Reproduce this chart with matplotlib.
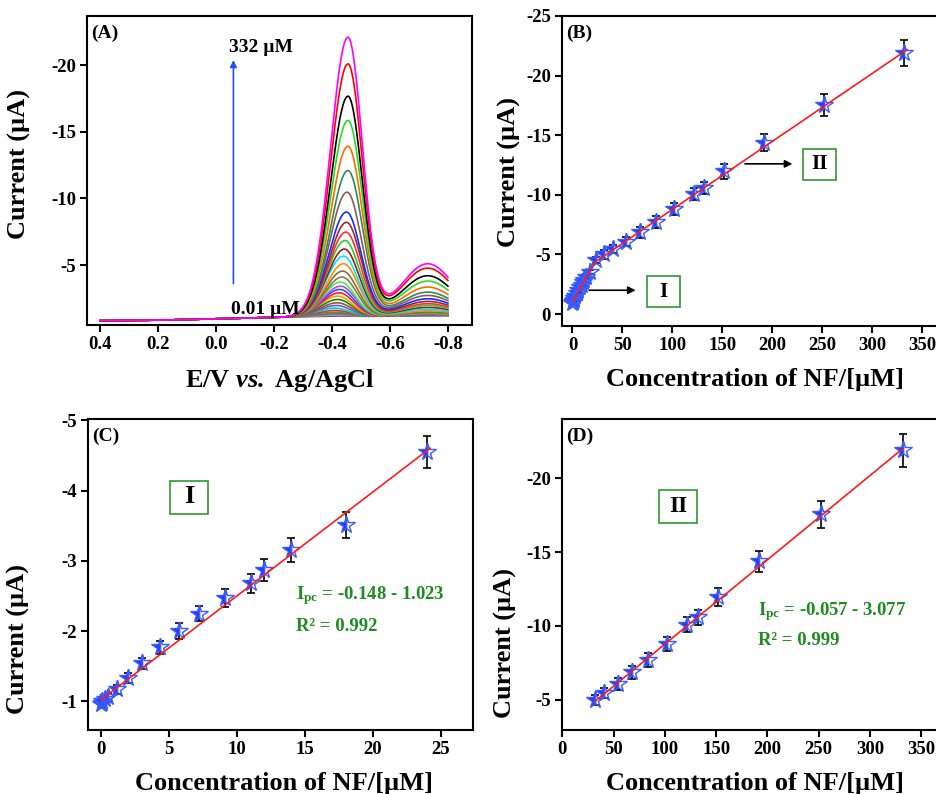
import numpy as np
import matplotlib
matplotlib.use('Agg')
import matplotlib.pyplot as plt
from matplotlib.patches import Rectangle

plt.rcParams['font.family'] = ['Liberation Serif', 'DejaVu Serif']
plt.rcParams['font.weight'] = 'bold'
plt.rcParams['axes.labelweight'] = 'bold'
plt.rcParams['axes.unicode_minus'] = False
plt.rcParams['mathtext.fontset'] = 'custom'
plt.rcParams['mathtext.rm'] = 'Liberation Serif:bold'
plt.rcParams['mathtext.bf'] = 'Liberation Serif:bold'
plt.rcParams['mathtext.it'] = 'Liberation Serif:italic:bold'
plt.rcParams['mathtext.bfit'] = 'Liberation Serif:italic:bold'

# ---- panel A: DPV curves (top curve first)
peak1_I = [-22.07, -20.07, -17.65, -15.83, -13.9, -12.08, -10.46, -8.97, -8.2, -7.47,
           -6.84, -6.2, -5.67, -5.1, -4.55, -4.1, -3.72, -3.42, -3.17, -2.92,
           -2.67, -2.42, -2.17, -1.97, -1.77, -1.6, -1.47, -1.38, -1.3, -1.24, -1.18]
peak1_E = [-0.455, -0.455, -0.455, -0.455, -0.455, -0.455, -0.452, -0.45, -0.45, -0.448,
           -0.445, -0.443, -0.44, -0.44, -0.437, -0.435, -0.43, -0.43, -0.427, -0.425,
           -0.42, -0.42, -0.418, -0.415, -0.41, -0.41, -0.41, -0.41, -0.41, -0.41, -0.41]
peak2_I = [-5.1, -4.77, -4.2, -3.8, -3.35, -2.97, -2.72, -2.47, -2.27, -2.1,
           -1.97, -1.82, -1.67, -1.57, -1.47, -1.42, -1.38, -1.35, -1.33, -1.31,
           -1.3, -1.29, -1.28, -1.27, -1.26, -1.25, -1.24, -1.23, -1.22, -1.21, -1.2]
base_E = [0.4, 0.2, 0.0, -0.2, -0.3, -0.8]
base_I = [-0.82, -0.86, -0.97, -1.07, -1.12, -1.18]
curve_colors = ['#ff00ff', '#ff0000', '#000000', '#22dd22', '#ff6a00', '#2e8b57', '#8b5a5a',
                '#1030ff', '#a0262b', '#ff3030', '#2ecc2e', '#8b2323', '#00e5ff', '#ff8c00',
                '#8b6b3a', '#808040', '#33ff33', '#c040ff', '#3050ff', '#ff2020', '#ff9900',
                '#118811', '#a0522d', '#6a5acd', '#00cccc', '#cc3366', '#669900', '#996633',
                '#3399ff', '#ff66cc', '#555555']

# ---- calibration data
conc1 = [0.01, 0.05, 0.1, 0.3, 0.5, 1.2, 2.0, 3.0, 4.3, 5.7, 7.2, 9.1, 11.0, 12.0, 14.0, 18.0, 24.0]
cur1 = [-0.96, -0.98, -1.0, -1.03, -1.06, -1.17, -1.33, -1.54, -1.77, -2.0, -2.25, -2.47,
        -2.68, -2.87, -3.15, -3.51, -4.55]
err1 = [0.05, 0.05, 0.05, 0.05, 0.06, 0.07, 0.07, 0.08, 0.09, 0.11, 0.11, 0.13, 0.14, 0.15,
        0.17, 0.18, 0.23]
conc2 = [32, 41, 54, 68, 84, 102, 122, 132, 152, 192, 252, 332]
cur2 = [-5.0, -5.45, -6.08, -6.87, -7.7, -8.78, -10.1, -10.6, -11.96, -14.37, -17.55, -21.87]
err2 = [0.35, 0.35, 0.4, 0.45, 0.5, 0.5, 0.5, 0.5, 0.6, 0.7, 0.9, 1.1]
fit1 = (-0.148, -1.023)
fit2 = (-0.057, -3.077)

W, H = 936, 794
fig = plt.figure(figsize=(W / 100, H / 100), dpi=100)


def box(l, t, r, b):
    return [l / W, 1 - b / H, (r - l) / W, (b - t) / H]


def green_box(cx, cy, w, h, txt, fs):
    # framed roman numeral, placed in figure pixels
    fig.add_artist(Rectangle(((cx - w / 2) / W, 1 - (cy + h / 2) / H), w / W, h / H,
                             transform=fig.transFigure, fill=False, ec='#2f9a2f', lw=1.2))
    fig.text(cx / W, 1 - cy / H, txt, fontsize=fs, ha='center', va='center')


axA = fig.add_axes(box(87, 16, 472, 325))
axB = fig.add_axes(box(562, 16, 950, 326))
axC = fig.add_axes(box(88, 419, 473, 729.5))
axD = fig.add_axes(box(562.3, 419, 950, 729.5))

for ax in (axA, axB, axC, axD):
    for s in ax.spines.values():
        s.set_linewidth(1.5)
    ax.tick_params(direction='out', length=5, width=1.5, labelsize=13.5, pad=3)

green = '#1e8c1e'

# ---- A
E = np.linspace(0.4, -0.8, 700)
base = np.interp(E[::-1], base_E[::-1], base_I[::-1])[::-1]
b1 = np.interp(-0.45, base_E[::-1], base_I[::-1])
b2 = np.interp(-0.73, base_E[::-1], base_I[::-1])
for i in range(len(peak1_I) - 1, -1, -1):
    sig1 = np.where(E > peak1_E[i], 0.06, 0.05)
    g1 = np.exp(-0.5 * ((E - peak1_E[i]) / sig1) ** 2)
    g2 = np.exp(-0.5 * ((E + 0.73) / 0.09) ** 2)
    I = base + (peak1_I[i] - b1) * g1 + (peak2_I[i] - b2) * g2
    axA.plot(E, I, color=curve_colors[i], lw=1.2)
axA.set_xlim(0.445, -0.883)
axA.set_ylim(-0.5, -23.7)
axA.set_xticks([0.4, 0.2, 0.0, -0.2, -0.4, -0.6, -0.8])
axA.set_xticklabels(['0.4', '0.2', '0.0', '-0.2', '-0.4', '-0.6', '-0.8'])
axA.set_yticks([-5, -10, -15, -20])
axA.annotate('', xy=(-0.06, -20.6), xytext=(-0.06, -3.4),
             arrowprops=dict(arrowstyle='-|>', color='#1f4fff', lw=1.2, mutation_scale=10))
axA.text(-0.044, -21.35, '332 µM', fontsize=14, va='center', ha='left')
axA.text(-0.052, -1.7, '0.01 µM', fontsize=14, va='center', ha='left')
axA.set_xlabel(r'E/V $\mathbfit{vs.}$ Ag/AgCl', fontsize=19)
axA.xaxis.set_label_coords(0.5, -0.135)


def calib(ax, xs, ys, es):
    ax.errorbar(xs, ys, yerr=es, fmt='none', ecolor='k', elinewidth=1.2,
                capsize=3, capthick=1.2, zorder=2)
    ax.plot(xs, ys, ls='none', marker='*', ms=13, mfc='#1f3cff', mec='#3a5cff',
            fillstyle='left', markerfacecoloralt='none', mew=1.0, zorder=3)


# ---- B
calib(axB, conc1 + conc2, cur1 + cur2, err1 + err2)
xk = (fit2[1] - fit1[1]) / (fit1[0] - fit2[0])
xb1 = np.array([0, xk])
xb2 = np.array([xk, 335])
axB.plot(xb1, fit1[0] * xb1 + fit1[1], color='#ff1a1a', lw=1.2, zorder=4)
axB.plot(xb2, fit2[0] * xb2 + fit2[1], color='#ff1a1a', lw=1.2, zorder=4)
axB.set_xlim(-10.5, 378)
axB.set_ylim(1.0, -25)
axB.set_xticks(range(0, 351, 50))
axB.set_yticks([0, -5, -10, -15, -20, -25])
axB.annotate('', xy=(66, -2.0), xytext=(14, -2.0),
             arrowprops=dict(arrowstyle='-|>', color='k', lw=1.2, mutation_scale=11))
axB.annotate('', xy=(223, -12.6), xytext=(170, -12.6),
             arrowprops=dict(arrowstyle='-|>', color='k', lw=1.2, mutation_scale=11))
green_box(663.3, 291.7, 33, 31, 'I', 15)
green_box(819.3, 164, 33, 31, 'II', 15)

# ---- C
calib(axC, conc1, cur1, err1)
xc = np.array([0, 24.2])
axC.plot(xc, fit1[0] * xc + fit1[1], color='#ff1a1a', lw=1.2, zorder=4)
axC.set_xlim(-0.96, 27.35)
axC.set_ylim(-0.6, -5.02)
axC.set_xticks(range(0, 26, 5))
axC.set_yticks([-1, -2, -3, -4, -5])
green_box(189, 497, 38, 33, 'I', 19)
axC.text(14.3, -2.51, 'I$_{\\mathbf{pc}}$ = -0.148 - 1.023', fontsize=13.5, color=green,
         ha='left', va='center')
axC.text(14.3, -2.07, 'R² = 0.992', fontsize=13.5, color=green, ha='left', va='center')

# ---- D
calib(axD, conc2, cur2, err2)
xd = np.array([32, 332])
axD.plot(xd, fit2[0] * xd + fit2[1], color='#ff1a1a', lw=1.2, zorder=4)
axD.set_xlim(0, 378)
axD.set_ylim(-3.0, -24.0)
axD.set_xticks(range(0, 351, 50))
axD.set_yticks([-5, -10, -15, -20])
green_box(678.3, 506, 38, 33, 'II', 17)
axD.text(190.8, -11.0, 'I$_{\\mathbf{pc}}$ = -0.057 - 3.077', fontsize=13.5, color=green,
         ha='left', va='center')
axD.text(190.8, -9.0, 'R² = 0.999', fontsize=13.5, color=green, ha='left', va='center')

# panel tags
for ax, lab in ((axA, '(A)'), (axB, '(B)'), (axC, '(C)'), (axD, '(D)')):
    ax.text(0.01, 0.945, lab, transform=ax.transAxes, fontsize=14, ha='left', va='center')

axA.set_ylabel('Current (µA)', fontsize=19)
axA.yaxis.set_label_coords(-0.146, 0.52)
axB.set_ylabel('Current (µA)', fontsize=19)
axB.yaxis.set_label_coords(-0.105, 0.497)
axC.set_ylabel('Current (µA)', fontsize=19)
axC.yaxis.set_label_coords(-0.151, 0.29)
axD.set_ylabel('Current (µA)', fontsize=19)
axD.yaxis.set_label_coords(-0.118, 0.28)

axB.set_xlabel('Concentration of NF/[µM]', fontsize=19)
axB.xaxis.set_label_coords(0.497, -0.135)
axC.set_xlabel('Concentration of NF/[µM]', fontsize=19)
axC.xaxis.set_label_coords(0.51, -0.137)
axD.set_xlabel('Concentration of NF/[µM]', fontsize=19)
axD.xaxis.set_label_coords(0.497, -0.137)

fig.savefig('out.png', dpi=100)
